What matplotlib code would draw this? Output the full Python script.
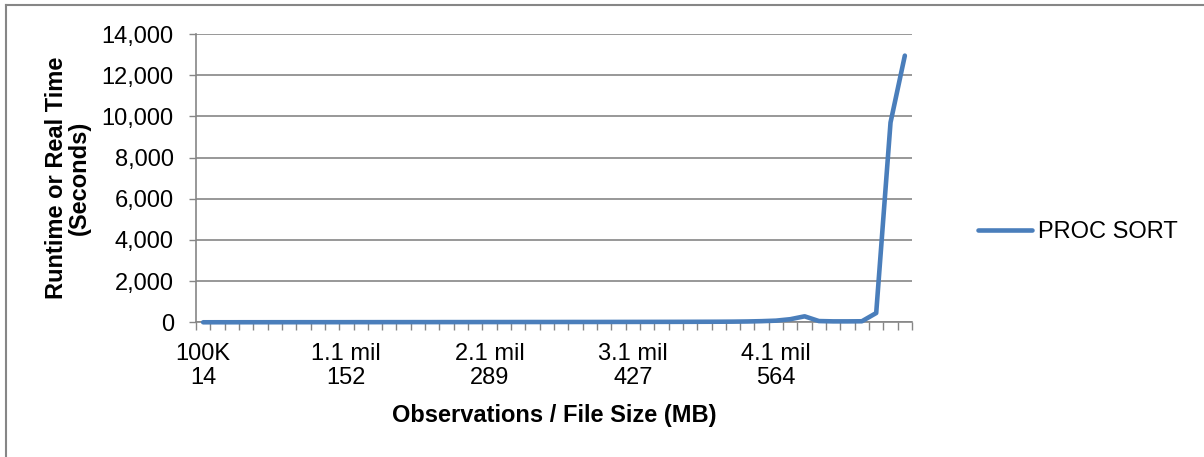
import matplotlib.pyplot as plt
import numpy as np
from matplotlib.lines import Line2D

plt.rcParams['font.family'] = ['Liberation Sans', 'DejaVu Sans']

# runtime in seconds, one value per 100K observations (100K .. 5 mil)
runtime = [1, 2, 2, 3, 3, 4, 4, 5, 5, 6,
           6, 7, 7, 8, 8, 9, 9, 10, 10, 11,
           12, 12, 13, 14, 14, 15, 16, 16, 17, 18,
           19, 20, 21, 22, 24, 26, 28, 32, 40, 55,
           80, 150, 290, 60, 45, 45, 50, 450, 9700, 12950]
tick_obs = ['100K', '1.1 mil', '2.1 mil', '3.1 mil', '4.1 mil']
tick_size = [14, 152, 289, 427, 564]
series_name = 'PROC SORT'

grey = '#868686'
blue = '#4A7EBB'
fs = 17

fig = plt.figure(figsize=(12.04, 4.57), dpi=100)
ax = fig.add_axes([196 / 1204, 1 - 322.3 / 457, (912 - 196) / 1204, (322.3 - 34) / 457])

x = np.arange(len(runtime))
ax.plot(x, runtime, color=blue, lw=3.3, solid_capstyle='round', solid_joinstyle='round',
        label=series_name, zorder=3, clip_on=False)

ax.set_xlim(-0.5, len(runtime) - 0.5)
ax.set_ylim(0, 14000)
ax.set_yticks(np.arange(0, 14001, 2000))
ax.set_yticklabels(['{:,}'.format(v) for v in range(0, 14001, 2000)], fontsize=fs)
ax.yaxis.grid(True, color=grey, lw=1.2)
ax.set_axisbelow(True)

# category boundary ticks, labels every 10 categories
ax.set_xticks(np.arange(-0.5, len(runtime), 1.0))
ax.set_xticklabels([])
ax.set_xticks(np.arange(0, len(runtime), 10), minor=True)
ax.set_xticklabels(['{}\n{}'.format(o, s) for o, s in zip(tick_obs, tick_size)], minor=True, fontsize=fs,
                   linespacing=1.1)
ax.tick_params(axis='x', which='major', length=6, color=grey, width=1)
ax.tick_params(axis='x', which='minor', length=0, pad=15)
ax.tick_params(axis='y', length=5, color=grey, width=1, pad=11)

for side in ['top', 'right']:
    ax.spines[side].set_visible(False)
for side in ['left', 'bottom']:
    ax.spines[side].set_color(grey)
    ax.spines[side].set_linewidth(1.2)

ax.set_xlabel('Observations / File Size (MB)', fontsize=fs, fontweight='bold', labelpad=11)
ax.set_ylabel('Runtime or Real Time\n(Seconds)', fontsize=fs, fontweight='bold', labelpad=8,
              linespacing=1.0)

handle = Line2D([], [], color=blue, lw=3.3, solid_capstyle='round')
fig.legend([handle], [series_name], loc='center left', bbox_to_anchor=(978 / 1204, 1 - 232 / 457),
           frameon=False, fontsize=fs, handlelength=2.3, handletextpad=0.25,
           borderaxespad=0, borderpad=0)

# chart border (only left and top visible in the crop)
fig.add_artist(Line2D([6 / 1204, 6 / 1204], [0, 1 - 5 / 457], color=grey, lw=1.5))
fig.add_artist(Line2D([6 / 1204, 1], [1 - 5 / 457, 1 - 5 / 457], color=grey, lw=1.5))

fig.savefig('out.png', dpi=100)
